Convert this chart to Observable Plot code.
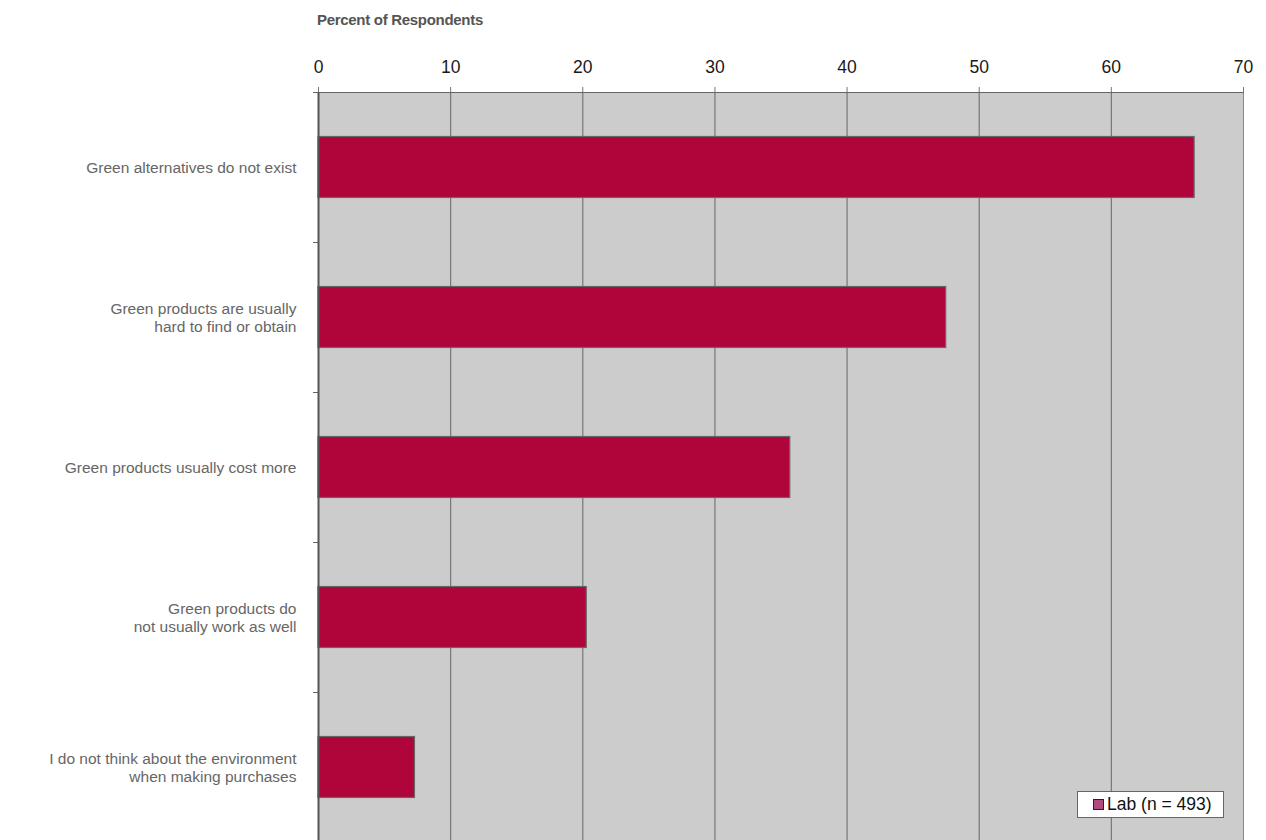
<!DOCTYPE html>
<html>
<head>
<meta charset="utf-8">
<script src="https://cdn.jsdelivr.net/npm/d3@7"></script>
<script src="https://cdn.jsdelivr.net/npm/@observablehq/plot@0.6"></script>
<style>
  html, body { margin: 0; padding: 0; background: #fff; overflow: hidden; }
  body { width: 1266px; height: 840px; position: relative; font-family: "Liberation Sans", Arial, sans-serif; }
  #title { height: 40px; box-sizing: border-box; padding-left: 317px; padding-top: 11px; font-weight: bold; font-size: 15px; letter-spacing: -0.3px; color: #555; }
  #legend { position: absolute; left: 1077px; top: 791px; width: 147px; height: 27px; box-sizing: border-box;
    border: 1px solid #666; background: #fff; font-size: 17.5px; color: #111; display: flex; align-items: center; padding-left: 15px; white-space: nowrap; }
  #legend .sw { width: 9px; height: 9px; background: #b04a80; border: 1px solid #222; margin-right: 3px; flex: none; }
  #chart svg { display: block; }
</style>
</head>
<body>
<div id="title">Percent of Respondents</div>
<div id="chart"></div>
<div id="legend"><span class="sw"></span><span id="legtext"></span></div>
<script>
const categories = [
  "Green alternatives do not exist",
  "Green products are usually\nhard to find or obtain",
  "Green products usually cost more",
  "Green products do\nnot usually work as well",
  "I do not think about the environment\nwhen making purchases"
];
const values = [66.3, 47.5, 35.7, 20.3, 7.3];
const xTicks = [0, 10, 20, 30, 40, 50, 60, 70];
const seriesName = "Lab (n = 493)";

const data = categories.map((c, i) => ({category: c, value: values[i]}));
document.getElementById("legtext").textContent = seriesName;

const chart = Plot.plot({
  width: 1266,
  height: 802,
  marginTop: 52,
  marginBottom: 0,
  marginLeft: 318,
  marginRight: 23,
  style: {fontFamily: "Liberation Sans, Arial, sans-serif", background: "transparent"},
  x: {domain: [0, 70], ticks: xTicks},
  y: {domain: categories, padding: 0},
  marks: [
    Plot.frame({fill: "#cccccc", stroke: "#888"}),
    Plot.gridX(xTicks.slice(1, -1), {stroke: "#777", strokeOpacity: 1, strokeWidth: 1.2}),
    Plot.barX(data, {x: "value", y: "category", fill: "#b0053a", stroke: "#666", strokeWidth: 1.2, insetTop: 44.5, insetBottom: 44.5}),
    Plot.axisX(xTicks, {anchor: "top", tickSize: 6, tickPadding: 14, fontSize: 17.5, color: "#1a1a1a", stroke: "#777", label: null}),
    Plot.axisY({anchor: "left", tickSize: 0, tickPadding: 22, fontSize: 15.5, fill: "#666", label: null, lineHeight: 1.17}),
    Plot.axisY({anchor: "left", tickSize: 5, dy: 75, stroke: "#666", tickFormat: () => "", label: null}),
    Plot.axisY([categories[0]], {anchor: "left", tickSize: 5, dy: -75, stroke: "#666", tickFormat: () => "", label: null}),
    Plot.ruleY([categories[0]], {dy: -75, stroke: "#666", strokeWidth: 1.2}),
    Plot.ruleX([0], {stroke: "#555", strokeWidth: 2})
  ]
});
document.getElementById("chart").appendChild(chart);
</script>
</body>
</html>
